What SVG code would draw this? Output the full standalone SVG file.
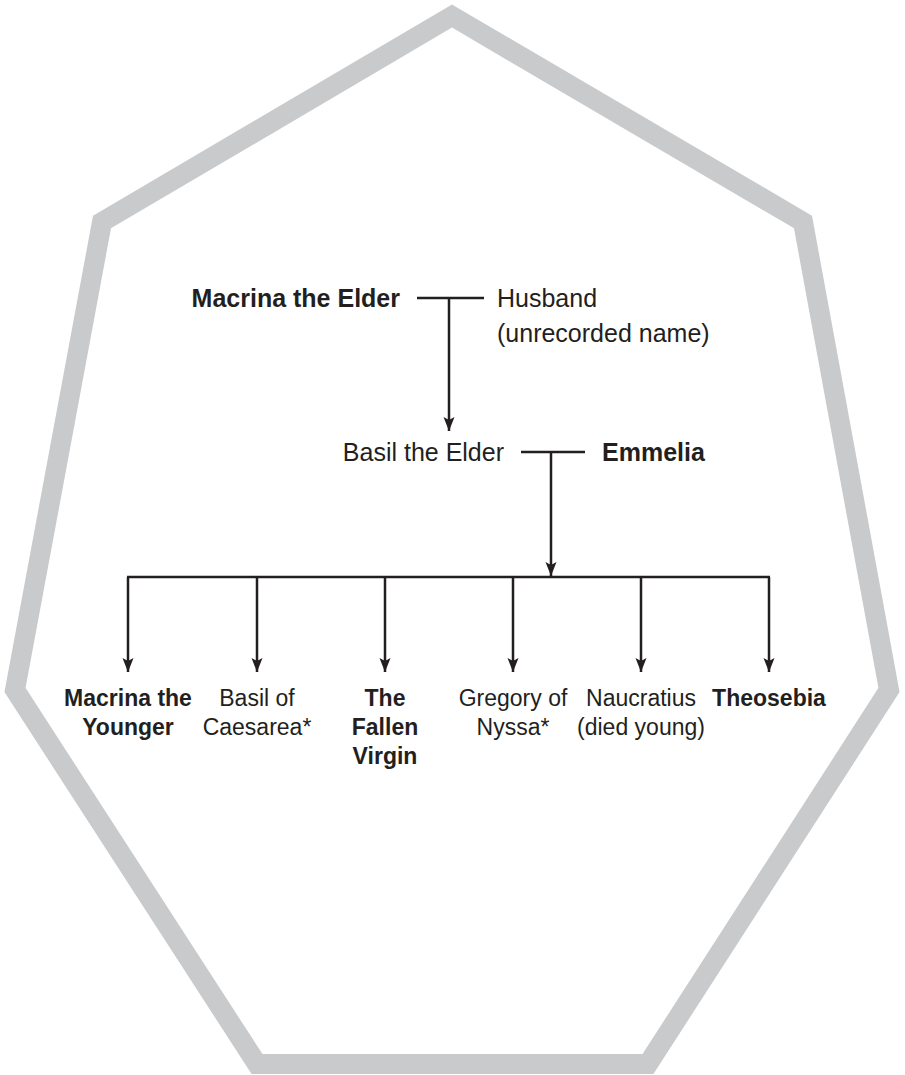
<svg xmlns="http://www.w3.org/2000/svg" width="905" height="1075" viewBox="0 0 905 1075">
<defs>
<style>
.t{font-family:"Liberation Sans",Arial,sans-serif;font-size:25px;fill:#231f20}
.s{font-size:23px}
.b{font-weight:bold}
.c{text-anchor:middle}
.e{text-anchor:end}
.ln{stroke:#231f20;stroke-width:2.5;fill:none}
</style>
<marker id="ah" viewBox="-14 -6 15 12" refX="0" refY="0" markerWidth="15" markerHeight="12" markerUnits="userSpaceOnUse" orient="auto">
<path d="M0,0 L-14,-5.5 L-11,0 L-14,5.5 Z" fill="#231f20"/>
</marker>
</defs>
<polygon points="452,16 803,222 889,690 648,1064 257,1064 15,690 102,222" fill="none" stroke="#c9cacc" stroke-width="20" stroke-linejoin="miter"/>
<g id="connectors">
<path class="ln" d="M417,298 H484"/>
<path class="ln" d="M449,298 V431" marker-end="url(#ah)"/>
<path class="ln" d="M521,452 H585"/>
<path class="ln" d="M551,452 V576" marker-end="url(#ah)"/>
<path class="ln" d="M127,577 H770"/>
<path class="ln" d="M128,577 V672" marker-end="url(#ah)"/>
<path class="ln" d="M257,577 V672" marker-end="url(#ah)"/>
<path class="ln" d="M385,577 V672" marker-end="url(#ah)"/>
<path class="ln" d="M513,577 V672" marker-end="url(#ah)"/>
<path class="ln" d="M641,577 V672" marker-end="url(#ah)"/>
<path class="ln" d="M769,577 V672" marker-end="url(#ah)"/>
</g>
<g id="macrina-elder"><text class="t b e" x="400" y="307">Macrina the Elder</text></g>
<g id="husband"><text class="t" x="497" y="307">Husband</text><text class="t" x="497" y="342">(unrecorded name)</text></g>
<g id="basil-elder"><text class="t e" x="504" y="461">Basil the Elder</text></g>
<g id="emmelia"><text class="t b" x="602" y="461">Emmelia</text></g>
<g id="macrina-younger"><text class="t s b c" x="128" y="706">Macrina the</text><text class="t s b c" x="128" y="735">Younger</text></g>
<g id="basil-caesarea"><text class="t s c" x="257" y="706">Basil of</text><text class="t s c" x="257" y="735">Caesarea*</text></g>
<g id="fallen-virgin"><text class="t s b c" x="385" y="706">The</text><text class="t s b c" x="385" y="735">Fallen</text><text class="t s b c" x="385" y="764">Virgin</text></g>
<g id="gregory-nyssa"><text class="t s c" x="513" y="706">Gregory of</text><text class="t s c" x="513" y="735">Nyssa*</text></g>
<g id="naucratius"><text class="t s c" x="641" y="706">Naucratius</text><text class="t s c" x="641" y="735">(died young)</text></g>
<g id="theosebia"><text class="t s b c" x="769" y="706">Theosebia</text></g>
</svg>
